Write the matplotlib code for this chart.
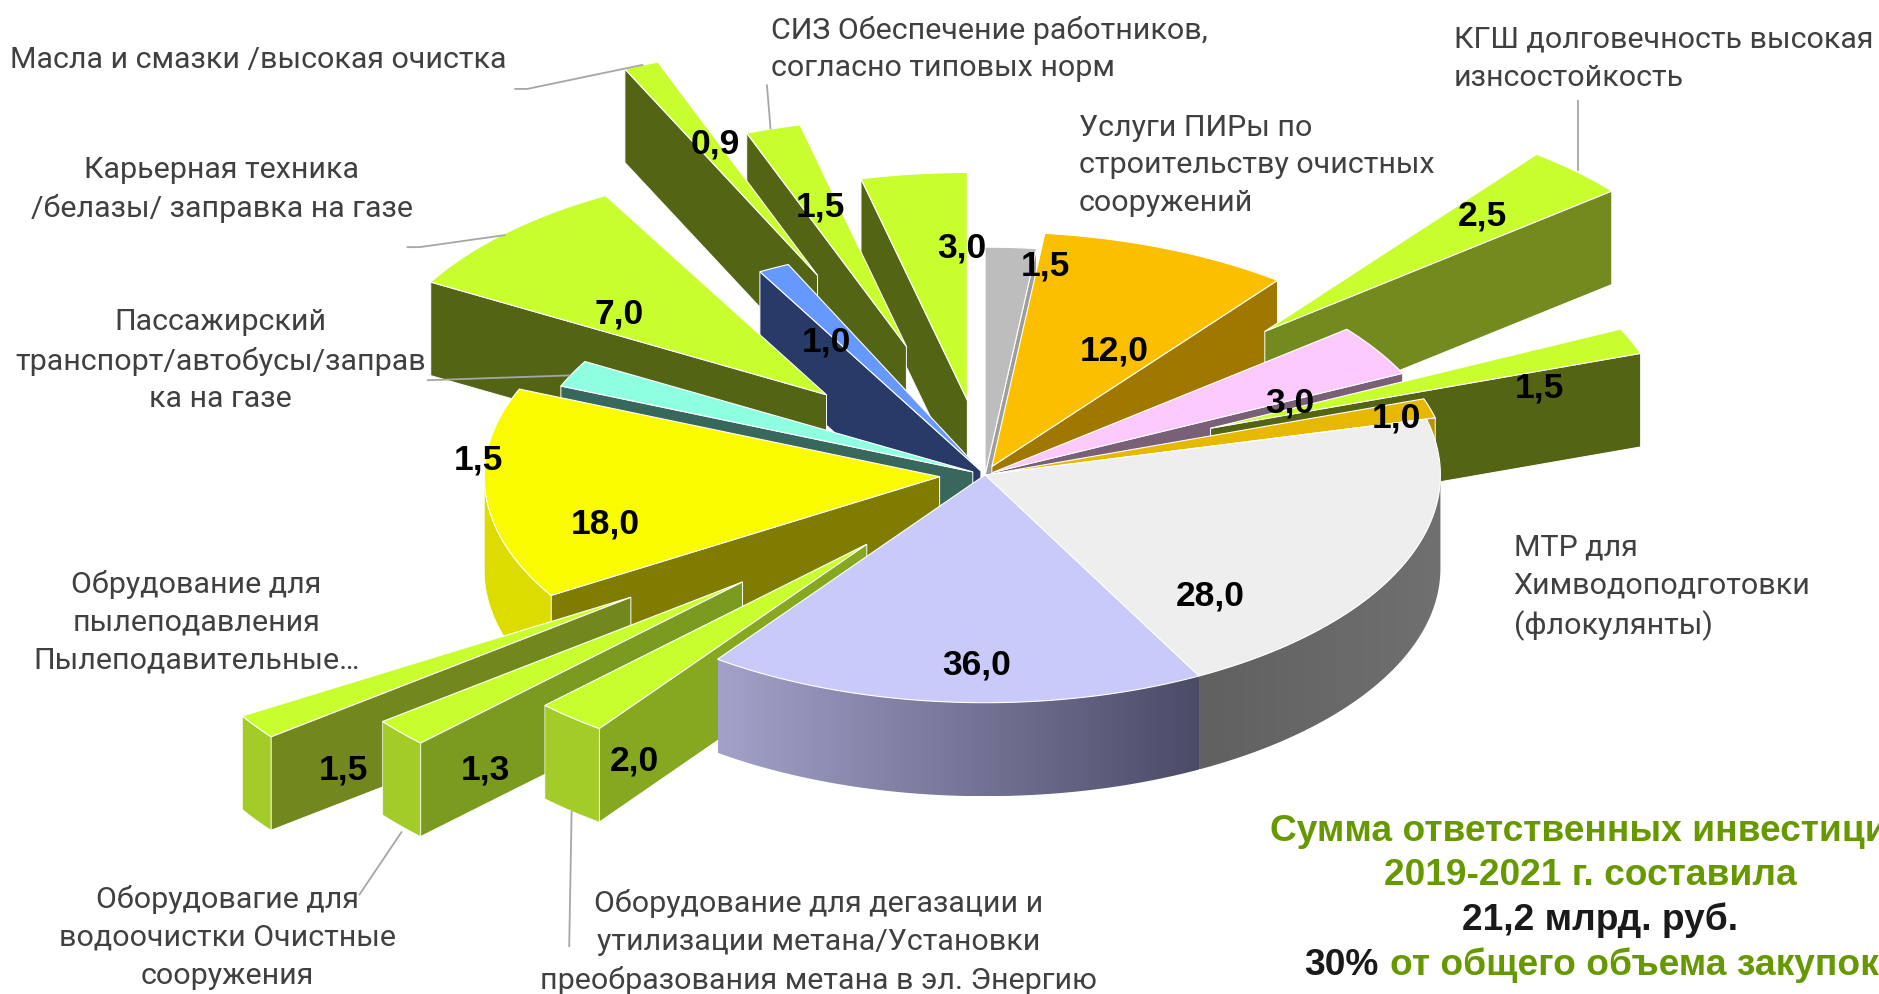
import numpy as np
import matplotlib
matplotlib.use("Agg")
import matplotlib.pyplot as plt
from matplotlib.patches import Polygon

# values clockwise from 12 o'clock
values = [1.5, 12.0, 2.5, 3.0, 1.5, 1.0, 28.0, 36.0, 2.0, 1.3, 1.5, 18.0, 1.5, 7.0, 1.0, 0.9, 1.5, 3.0]

# the picture does not keep slices strictly proportional, so a stretch per slice
stretch = [1.48, 0.884, 1.85, 1.50, 1.51, 1.71, 0.93, 0.608, 1.54, 1.9, 1.45, 1.027, 1.6, 1.53, 1.37, 1.71, 1.6, 1.54]
explode = [0.0, 0.04, 0.88, 0.02, 0.536, 0.02, 0.0, 0.0, 0.4, 0.71, 0.945, 0.1, 0.03, 0.495, 0.02, 0.95, 0.59, 0.33]
radius = [1.0, 1.03, 0.98, 1.0, 1.0, 1.0, 1.0, 1.0, 1.0, 1.0, 1.0, 1.0, 0.98, 1.0, 1.0, 1.0, 1.0, 1.0]

lime = "#c8fd2e"
dark = "#536415"
top_colors = ["#bdbdbd", "#fcbf00", lime, "#fbc9fb", lime, "#e6b800", "#eeeeee", "#c9c9fa", lime, lime, lime,
              "#fbfb00", "#8effe0", lime, "#6699ff", lime, lime, lime]
side_colors = ["#9e9e9e", "#a07800", "#728a1e", "#7a5f78", dark, "#b89400", "#666666", "#8080a8", "#86a820", "#7a9a20", "#72881e",
               "#807c00", "#38675c", dark, "#283a68", dark, dark, dark]
rim_colors = ["#999999"] * 8 + ["#a4cc28", "#a4cc28", "#a4cc28", "#dcdc00"] + ["#999999"] * 6

draw_order = [0, 1, 2, 3, 4, 5, 6, 17, 16, 15, 14, 13, 12, 11, 10, 9, 8, 7]

# label centres, reference px
value_x = [872, 930, 1237, 1076, 1285, 1165, 1010, 815, 529, 405, 287, 505, 399, 517, 690, 597, 685, 803]
value_y = [222, 293, 180, 336, 324, 349, 497, 555, 635, 642, 642, 437, 384, 262, 285, 120, 173, 207]

cx, cy = 822, 397
rx, ry = 380, 190
depth = 78

plt.rcParams['font.family'] = ['Roboto', 'DejaVu Sans']

fig = plt.figure(figsize=(18.79, 9.95), dpi=100)
ax = fig.add_axes([0, 0, 1, 1])
ax.set_xlim(0, 1568)
ax.set_ylim(830, 0)
ax.axis('off')

spans = np.array(values) * np.array(stretch)
spans = spans / spans.sum() * 360
ends = np.cumsum(spans)
starts = ends - spans


def to_px(u, v):
    return np.column_stack([cx + rx * np.asarray(u), cy - ry * np.asarray(v)])


def gradient_wall(poly, c0, c1, z):
    patch = Polygon(poly, closed=True, fc='none', ec='none', zorder=z)
    ax.add_patch(patch)
    x0, x1 = poly[:, 0].min(), poly[:, 0].max()
    y0, y1 = poly[:, 1].min(), poly[:, 1].max()
    c0 = np.array(matplotlib.colors.to_rgb(c0))
    c1 = np.array(matplotlib.colors.to_rgb(c1))
    t = np.linspace(0, 1, 256)[None, :, None]
    im = ax.imshow(c0 + (c1 - c0) * t, extent=[x0, x1, y1, y0], aspect='auto', zorder=z)
    im.set_clip_path(patch)
    ax.set_xlim(0, 1568)
    ax.set_ylim(830, 0)


z = 1
for i in draw_order:
    a, b = starts[i], ends[i]
    mid = np.radians((a + b) / 2)
    au, av = explode[i] * np.sin(mid), explode[i] * np.cos(mid)
    t = np.radians(np.linspace(a, b, 60))
    ou = au + radius[i] * np.sin(t)
    ov = av + radius[i] * np.cos(t)
    apex = to_px([au], [av])
    rim = to_px(ou, ov)
    down = np.array([0, depth])

    # radial walls, only the sides turned to the viewer
    if np.sin(np.radians(a)) < -0.001:
        wall = np.vstack([apex, rim[:1], rim[:1] + down, apex + down])
        ax.add_patch(Polygon(wall, closed=True, fc=side_colors[i], ec='white', lw=0.7, zorder=z))
        z += 1
    if np.sin(np.radians(b)) > 0.001:
        wall = np.vstack([apex, rim[-1:], rim[-1:] + down, apex + down])
        ax.add_patch(Polygon(wall, closed=True, fc=side_colors[i], ec='white', lw=0.7, zorder=z))
        z += 1

    # outer wall, near half only
    lo, hi = max(a, 90), min(b, 270)
    if hi > lo:
        t2 = np.radians(np.linspace(lo, hi, 60))
        edge = to_px(au + radius[i] * np.sin(t2), av + radius[i] * np.cos(t2))
        wall = np.vstack([edge, edge[::-1] + down])
        if i == 7:
            gradient_wall(wall, "#a2a2ca", "#4b4b68", z)
        elif i == 6:
            gradient_wall(wall[:], "#606060", "#707070", z)
        else:
            ax.add_patch(Polygon(wall, closed=True, fc=rim_colors[i], ec='white', lw=0.5, zorder=z))
        z += 1

    ax.add_patch(Polygon(np.vstack([apex, rim]), closed=True, fc=top_colors[i], ec='white', lw=0.8, zorder=z))
    z += 1

# leader lines
leaders = [
    ([430, 440, 536], [75, 75, 55]),
    ([640, 643], [72, 108]),
    ([340, 350, 421], [207, 207, 197]),
    ([357, 475], [318, 314]),
    ([1317, 1317], [85, 143]),
    ([335, 300], [695, 747]),
    ([477, 475], [678, 790]),
]
for lx, ly in leaders:
    ax.plot(lx, ly, color='#a6a6a6', lw=1.3, zorder=z)
z += 1

# value labels
for v, x, y in zip(values, value_x, value_y):
    ax.text(x, y, f"{v:.1f}".replace('.', ','), ha='center', va='center', fontsize=25.5, fontweight='bold',
            family='Liberation Sans', color='black', zorder=z)

# category labels
grey = '#404040'
cat_size = 21.9
labels = [
    ("Масла и смазки /высокая очистка", 8, 50, 'left'),
    ("СИЗ Обеспечение работников,\nсогласно типовых норм", 643, 41, 'left'),
    ("КГШ долговечность высокая\nизнсостойкость", 1213, 49, 'left'),
    ("Услуги ПИРы по\nстроительству очистных\nсооружений", 900, 138, 'left'),
    ("Карьерная техника\n/белазы/ заправка на газе", 185, 158, 'center'),
    ("Пассажирский\nтранспорт/автобусы/заправ\nка на газе", 184, 301, 'center'),
    ("МТР для\nХимводоподготовки\n(флокулянты)", 1263, 490, 'left'),
    ("Обрудование для\nпылеподавления\nПылеподавительные…", 164, 519, 'center'),
    ("Оборудовагие для\nводоочистки Очистные\nсооружения", 190, 782, 'center'),
    ("Оборудование для дегазации и\nутилизации метана/Установки\nпреобразования метана в эл. Энергию", 683, 786, 'center'),
]
for txt, x, y, ha in labels:
    ax.text(x, y, txt, ha=ha, va='center', multialignment=ha, fontsize=cat_size, color=grey, linespacing=1.44, zorder=z)

# summary
green = '#669900'
black = '#1a1a1a'
bold = dict(fontsize=26.7, fontweight='bold', family='Liberation Sans', va='center')
ax.text(1327, 693, "Сумма ответственных инвестиций", ha='center', color=green, **bold)
ax.text(1327, 730, "2019-2021 г. составила", ha='center', color=green, **bold)
ax.text(1335, 768, "21,2 млрд. руб.", ha='center', color=black, **bold)
ax.text(1150, 805, "30%", ha='right', color=black, **bold)
ax.text(1160, 805, "от общего объема закупок", ha='left', color=green, **bold)

fig.savefig('out.png', dpi=100, facecolor='white')
